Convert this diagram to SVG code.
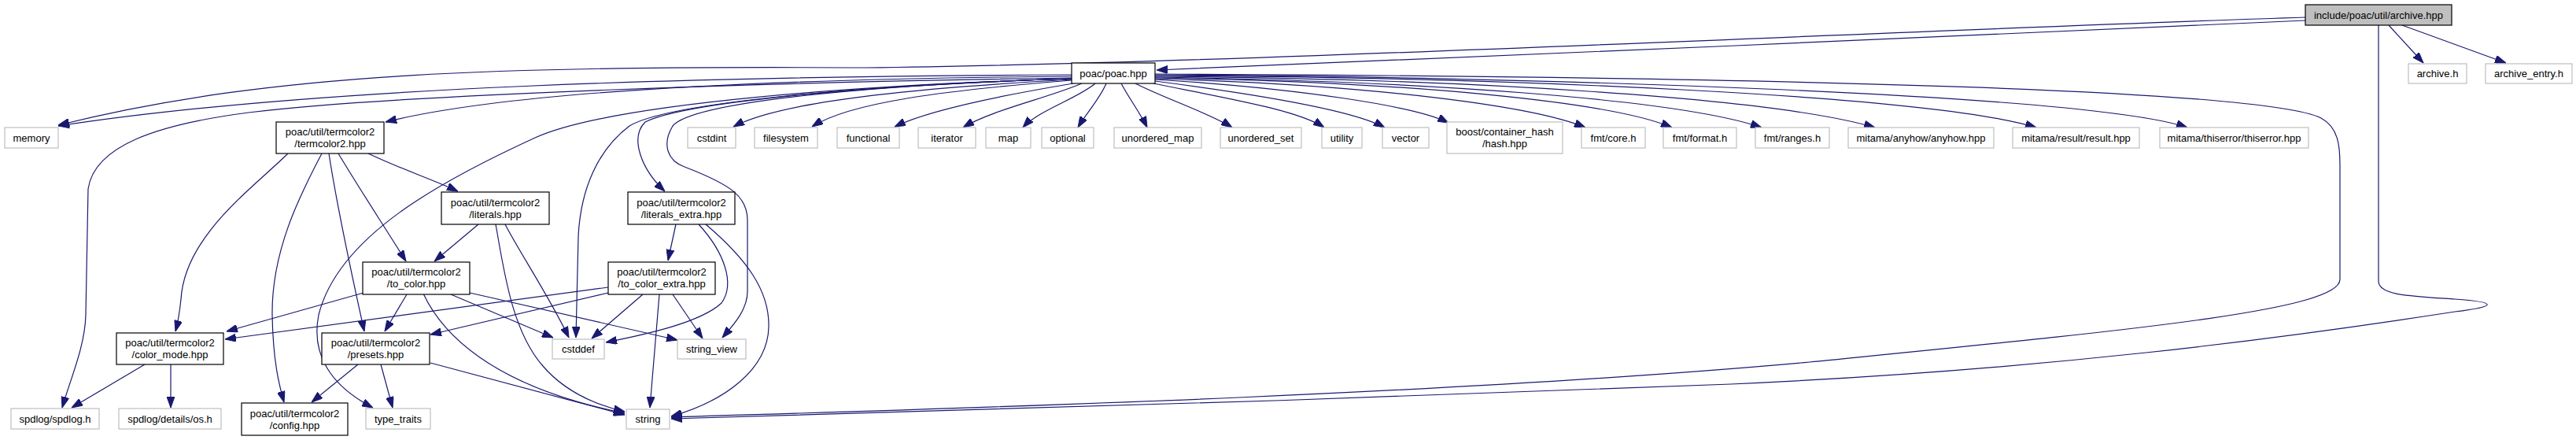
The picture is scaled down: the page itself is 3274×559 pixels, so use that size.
<svg xmlns="http://www.w3.org/2000/svg" width="3274" height="559" viewBox="0 0 3274 559">
<style>
.bg{fill:#ffffff}
.ext rect{fill:#ffffff;stroke:#bfbfbf;stroke-width:1.2}
.int rect{fill:#ffffff;stroke:#000000;stroke-width:1.2}
.root rect{fill:#bfbfbf;stroke:#000000;stroke-width:1.2}
text{font-family:"Liberation Sans",Arial,Helvetica,sans-serif;font-size:13px;fill:#000000;text-anchor:middle}
#edges path{fill:none;stroke:#191970;stroke-width:1.2;marker-end:url(#arr)}
</style>
<defs>
<marker id="arr" markerUnits="userSpaceOnUse" viewBox="0 0 14 10" refX="14" refY="5" markerWidth="14" markerHeight="10" orient="auto">
<path d="M0,0 L14,5 L0,10 z" fill="#191970" stroke="#191970" stroke-width="1"/>
</marker>
</defs>
<rect class="bg" x="0" y="0" width="3274" height="559"/>
<g id="edges">
<path d="M2930,26 C2500,45 1900,72 1470,89"/>
<path d="M2930,22 C2500,35 1600,80 1100,86 C650,84 350,90 74,159"/>
<path d="M3036,32 L3080,80"/>
<path d="M3053,32 L3185,80"/>
<path d="M3023,32 L3023,357 C3023,375 3060,376 3120,380 C3175,384 3175,389 3120,396 C2900,430 2600,470 2200,488 C1800,505 1100,525 853,532"/>
<path d="M1362,95 C900,97 400,110 74,160"/>
<path d="M1362,97 C1000,100 650,115 490,155"/>
<path d="M1362,99 C1000,104 500,120 316,143 C200,158 120,185 112,240 L109,400 C108,440 90,480 79,518"/>
<path d="M1362,101 C1200,110 1000,125 932,161"/>
<path d="M1362,102 C1200,115 1080,130 1032,161"/>
<path d="M1364,106 C1280,120 1180,140 1137,161"/>
<path d="M1375,106 C1330,125 1260,140 1224,162"/>
<path d="M1392,106 C1370,125 1320,140 1300,162"/>
<path d="M1406,106 C1398,125 1380,145 1370,162"/>
<path d="M1425,106 C1435,125 1450,145 1458,162"/>
<path d="M1443,106 C1480,125 1540,145 1566,162"/>
<path d="M1466,106 C1560,125 1650,140 1683,162"/>
<path d="M1468,103 C1600,120 1720,140 1760,162"/>
<path d="M1468,101 C1650,112 1800,135 1841,156"/>
<path d="M1468,100 C1750,108 1950,135 2015,162"/>
<path d="M1468,99 C1800,104 2050,130 2125,162"/>
<path d="M1468,98 C1800,103 2130,125 2239,162"/>
<path d="M1468,97 C1850,100 2250,123 2383,162"/>
<path d="M1468,96 C1900,98 2450,120 2588,162"/>
<path d="M1468,95 C1900,97 2650,118 2780,162"/>
<path d="M1468,94 C2300,98 2880,115 2950,150 C2972,162 2974,185 2974,210 L2974,355 C2974,395 2700,420 2300,460 C1800,505 1100,522 853,530"/>
<path d="M1362,100 C1100,108 850,130 800,160 C760,190 738,240 735,300 L732,429"/>
<path d="M1362,100 C1100,108 870,130 820,155 C800,175 815,215 845,243"/>
<path d="M1362,100 C1100,108 880,130 855,160 C840,185 850,205 870,212 C930,235 950,250 950,280 L950,370 C950,395 930,415 918,429"/>
<path d="M1362,100 C1100,108 780,130 680,175 C560,230 430,300 405,400 C395,450 420,490 474,518"/>
<path d="M366,195 C320,240 235,300 230,380 C228,400 226,410 223,421"/>
<path d="M409,195 C380,250 345,320 346,400 C347,460 355,490 361,511"/>
<path d="M418,195 C428,260 445,340 463,421"/>
<path d="M430,195 C460,245 490,290 516,332"/>
<path d="M468,195 C510,215 550,228 582,243"/>
<path d="M608,285 L552,332"/>
<path d="M630,285 C640,340 650,420 690,465 C720,500 760,515 794,523"/>
<path d="M642,285 C660,320 700,380 723,429"/>
<path d="M859,285 L849,331"/>
<path d="M888,285 C920,320 935,360 917,385 C890,410 820,425 770,435"/>
<path d="M897,285 C950,330 978,370 977,415 C976,470 920,510 853,529"/>
<path d="M462,372 L288,421"/>
<path d="M517,374 L489,421"/>
<path d="M538,373 C560,420 620,490 794,525"/>
<path d="M573,374 L703,429"/>
<path d="M597,372 L861,432"/>
<path d="M773,365 L286,431"/>
<path d="M773,372 L547,425"/>
<path d="M817,374 L752,430"/>
<path d="M838,374 C834,420 830,470 826,518"/>
<path d="M855,374 L893,430"/>
<path d="M184,463 L91,518"/>
<path d="M217,463 L217,518"/>
<path d="M455,463 L396,511"/>
<path d="M484,463 L499,518"/>
<path d="M547,461 L794,527"/>
</g>
<g id="n_archive_hpp" class="root"><rect x="2930" y="6" width="186" height="26"/><text x="3023" y="23.5">include/poac/util/archive.hpp</text></g>
<g id="n_poac_hpp" class="int"><rect x="1362" y="80" width="106" height="26"/><text x="1415" y="97.5">poac/poac.hpp</text></g>
<g id="n_archive_h" class="ext"><rect x="3061" y="81" width="74" height="25"/><text x="3098" y="97.5">archive.h</text></g>
<g id="n_archive_entry_h" class="ext"><rect x="3159" y="81" width="110" height="25"/><text x="3214" y="97.5">archive_entry.h</text></g>
<g id="n_memory" class="ext"><rect x="6" y="162" width="68" height="26"/><text x="40" y="179.5">memory</text></g>
<g id="n_termcolor2_hpp" class="int"><rect x="351" y="155" width="137" height="40"/><text x="419.5" y="172">poac/util/termcolor2</text><text x="419.5" y="187">/termcolor2.hpp</text></g>
<g id="n_cstdint" class="ext"><rect x="874" y="162" width="61" height="26"/><text x="904.5" y="179.5">cstdint</text></g>
<g id="n_filesystem" class="ext"><rect x="959" y="162" width="80" height="26"/><text x="999" y="179.5">filesystem</text></g>
<g id="n_functional" class="ext"><rect x="1064" y="162" width="79" height="26"/><text x="1103.5" y="179.5">functional</text></g>
<g id="n_iterator" class="ext"><rect x="1167" y="162" width="73" height="26"/><text x="1203.5" y="179.5">iterator</text></g>
<g id="n_map" class="ext"><rect x="1253" y="162" width="57" height="26"/><text x="1281.5" y="179.5">map</text></g>
<g id="n_optional" class="ext"><rect x="1324" y="162" width="66" height="26"/><text x="1357" y="179.5">optional</text></g>
<g id="n_unordered_map" class="ext"><rect x="1416" y="162" width="111" height="26"/><text x="1471.5" y="179.5">unordered_map</text></g>
<g id="n_unordered_set" class="ext"><rect x="1551" y="162" width="103" height="26"/><text x="1602.5" y="179.5">unordered_set</text></g>
<g id="n_utility" class="ext"><rect x="1680" y="162" width="51" height="26"/><text x="1705.5" y="179.5">utility</text></g>
<g id="n_vector" class="ext"><rect x="1757" y="162" width="59" height="26"/><text x="1786.5" y="179.5">vector</text></g>
<g id="n_boost_hash" class="ext"><rect x="1839" y="155" width="147" height="40"/><text x="1912.5" y="172">boost/container_hash</text><text x="1912.5" y="187">/hash.hpp</text></g>
<g id="n_fmt_core" class="ext"><rect x="2010" y="162" width="81" height="26"/><text x="2050.5" y="179.5">fmt/core.h</text></g>
<g id="n_fmt_format" class="ext"><rect x="2114" y="162" width="93" height="26"/><text x="2160.5" y="179.5">fmt/format.h</text></g>
<g id="n_fmt_ranges" class="ext"><rect x="2231" y="162" width="94" height="26"/><text x="2278" y="179.5">fmt/ranges.h</text></g>
<g id="n_anyhow" class="ext"><rect x="2349" y="162" width="185" height="26"/><text x="2441.5" y="179.5">mitama/anyhow/anyhow.hpp</text></g>
<g id="n_result" class="ext"><rect x="2558" y="162" width="161" height="26"/><text x="2638.5" y="179.5">mitama/result/result.hpp</text></g>
<g id="n_thiserror" class="ext"><rect x="2745" y="162" width="189" height="26"/><text x="2839.5" y="179.5">mitama/thiserror/thiserror.hpp</text></g>
<g id="n_literals_hpp" class="int"><rect x="561" y="244" width="137" height="41"/><text x="629.5" y="261.5">poac/util/termcolor2</text><text x="629.5" y="276.5">/literals.hpp</text></g>
<g id="n_literals_extra_hpp" class="int"><rect x="798" y="244" width="136" height="41"/><text x="866" y="261.5">poac/util/termcolor2</text><text x="866" y="276.5">/literals_extra.hpp</text></g>
<g id="n_to_color_hpp" class="int"><rect x="461" y="333" width="136" height="41"/><text x="529" y="350">poac/util/termcolor2</text><text x="529" y="365">/to_color.hpp</text></g>
<g id="n_to_color_extra_hpp" class="int"><rect x="773" y="333" width="136" height="41"/><text x="841" y="350">poac/util/termcolor2</text><text x="841" y="365">/to_color_extra.hpp</text></g>
<g id="n_color_mode_hpp" class="int"><rect x="148" y="423" width="136" height="40"/><text x="216" y="440">poac/util/termcolor2</text><text x="216" y="455">/color_mode.hpp</text></g>
<g id="n_presets_hpp" class="int"><rect x="409" y="423" width="137" height="40"/><text x="477.5" y="440">poac/util/termcolor2</text><text x="477.5" y="455">/presets.hpp</text></g>
<g id="n_cstddef" class="ext"><rect x="702" y="431" width="66" height="25"/><text x="735" y="447.5">cstddef</text></g>
<g id="n_string_view" class="ext"><rect x="861" y="431" width="87" height="25"/><text x="904.5" y="447.5">string_view</text></g>
<g id="n_spdlog_h" class="ext"><rect x="14" y="519" width="112" height="26"/><text x="70" y="536.5">spdlog/spdlog.h</text></g>
<g id="n_spdlog_os_h" class="ext"><rect x="151" y="519" width="130" height="26"/><text x="216" y="536.5">spdlog/details/os.h</text></g>
<g id="n_config_hpp" class="int"><rect x="307" y="512" width="135" height="41"/><text x="374.5" y="529.5">poac/util/termcolor2</text><text x="374.5" y="544.5">/config.hpp</text></g>
<g id="n_type_traits" class="ext"><rect x="465" y="519" width="82" height="26"/><text x="506" y="536.5">type_traits</text></g>
<g id="n_string" class="ext"><rect x="796" y="520" width="55" height="25"/><text x="823.5" y="536.5">string</text></g>
</svg>
